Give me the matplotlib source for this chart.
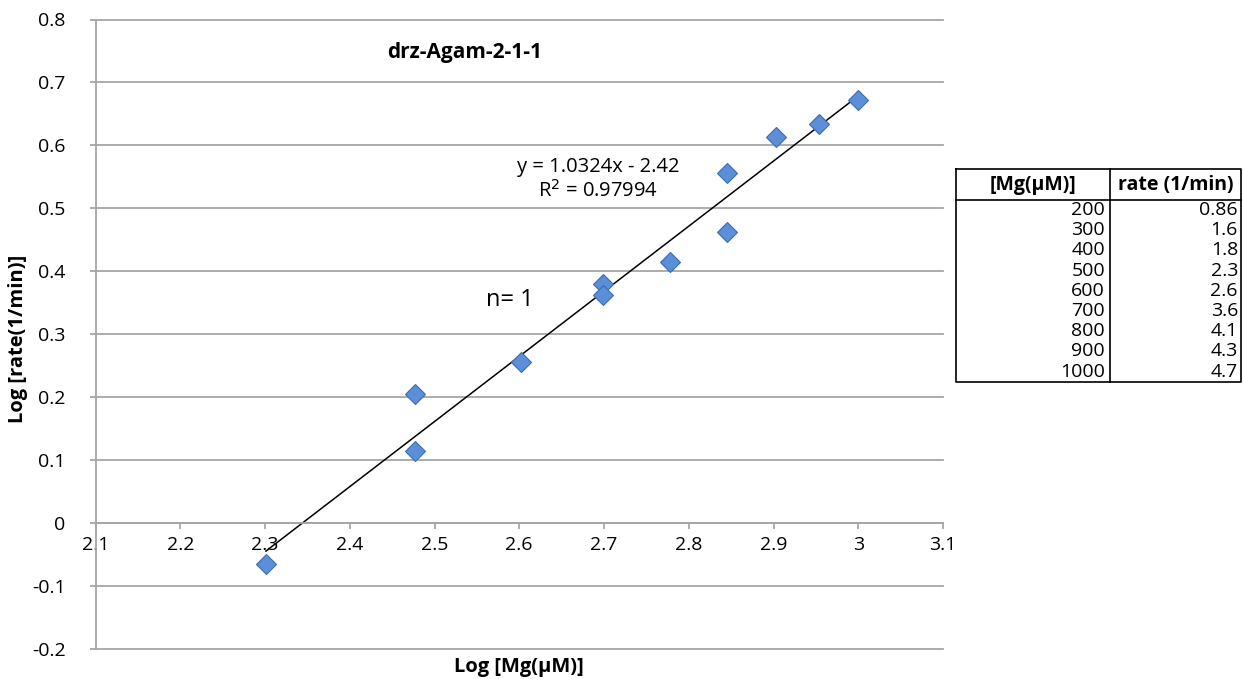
import numpy as np
import matplotlib
matplotlib.use('Agg')
import matplotlib.pyplot as plt
from matplotlib.ticker import FuncFormatter, MultipleLocator

plt.rcParams['font.family'] = ['Open Sans', 'DejaVu Sans']
plt.rcParams['axes.unicode_minus'] = False

# Table on the right: Mg concentration (uM) and rate (1/min)
mg_table = [200, 300, 400, 500, 600, 700, 800, 900, 1000]
rate_table = ['0.86', '1.6', '1.8', '2.3', '2.6', '3.6', '4.1', '4.3', '4.7']

# Points in the plot (some concentrations measured twice)
mg_points = [200, 300, 300, 400, 500, 500, 600, 700, 700, 800, 900, 1000]
rate_points = [0.86, 1.6, 1.3, 1.8, 2.4, 2.3, 2.6, 3.6, 2.9, 4.1, 4.3, 4.7]

title = 'drz-Agam-2-1-1'
eq_text = 'y = 1.0324x - 2.42'
r2_text = 'R$^2$ = 0.97994'

W, H = 1243, 679
fig = plt.figure(figsize=(W / 100, H / 100), dpi=100)

def px(x0, y0, x1, y1):
    # pixel box (left, top, right, bottom) -> figure fraction rect
    return [x0 / W, 1 - y1 / H, (x1 - x0) / W, (y1 - y0) / H]

ax = fig.add_axes(px(95.5, 19.5, 943, 648.5))

x = np.log10(mg_points)
y = np.log10(rate_points)
slope, intercept = np.polyfit(x, y, 1)
xs = np.array([x.min(), x.max()])

grid_c = '#a6a6a6'
ax.plot(xs, slope * xs + intercept, color='black', lw=1.1, zorder=2)
ax.plot(x, y, 'D', ms=10, mfc='#5b8fd8', mec='#3d6db3', mew=0.8, zorder=3)

ax.set_xlim(2.1, 3.1)
ax.set_ylim(-0.2, 0.8)
ax.xaxis.set_major_locator(MultipleLocator(0.1))
ax.yaxis.set_major_locator(MultipleLocator(0.1))
fmt = FuncFormatter(lambda v, p: f'{round(v, 2):g}')
ax.xaxis.set_major_formatter(fmt)
ax.yaxis.set_major_formatter(fmt)

ax.spines['top'].set_visible(False)
ax.spines['right'].set_visible(False)
ax.spines['bottom'].set_position(('data', 0))
for s in ['left', 'bottom']:
    ax.spines[s].set_color(grid_c)
    ax.spines[s].set_linewidth(1.3)
ax.tick_params(axis='both', direction='out', length=4.5, color=grid_c,
               labelsize=14, width=1.3)
ax.tick_params(axis='x', pad=5)
ax.tick_params(axis='y', pad=17)
ax.yaxis.grid(True, color=grid_c, lw=1.3)
ax.set_axisbelow(True)
for gl in ax.yaxis.get_gridlines():
    gl.set_clip_on(False)

ax.text(2.536, 0.748, title, ha='center', va='center', fontsize=15,
        fontweight='bold')
ax.text(2.693, 0.565, eq_text, ha='center', va='center', fontsize=14.5)
ax.text(2.693, 0.527, r2_text, ha='center', va='center', fontsize=14.5)
ax.text(2.589, 0.354, 'n= 1', ha='center', va='center', fontsize=17)

fig.text(18 / W, 1 - 339 / H, 'Log [rate(1/min)]', rotation=90, ha='center',
         va='center', fontsize=14.5, fontweight='bold')
fig.text(519 / W, 1 - 667 / H, 'Log [Mg(\u03bcM)]', ha='center', va='center',
         fontsize=14.5, fontweight='bold')

# table drawn in pixel coordinates
tx = fig.add_axes([0, 0, 1, 1])
tx.set_xlim(0, W)
tx.set_ylim(H, 0)
tx.axis('off')
left, top, right, bottom, mid, head = 956, 169, 1241, 382, 1110, 200
tx.plot([left, right, right, left, left], [top, top, bottom, bottom, top],
        color='black', lw=1.2)
tx.plot([left, right], [head, head], color='black', lw=1.2)
tx.plot([mid, mid], [top, bottom], color='black', lw=1.2)
tx.text((left + mid) / 2, 185, '[Mg(\u03bcM)]', ha='center', va='center',
        fontsize=14, fontweight='bold')
tx.text((mid + right) / 2, 185, 'rate (1/min)', ha='center', va='center',
        fontsize=14, fontweight='bold')
for i, (m, r) in enumerate(zip(mg_table, rate_table)):
    yy = 210 + i * 20.2
    tx.text(mid - 5, yy, str(m), ha='right', va='center', fontsize=14)
    tx.text(right - 3, yy, r, ha='right', va='center', fontsize=14)

fig.savefig('out.png', dpi=100)
